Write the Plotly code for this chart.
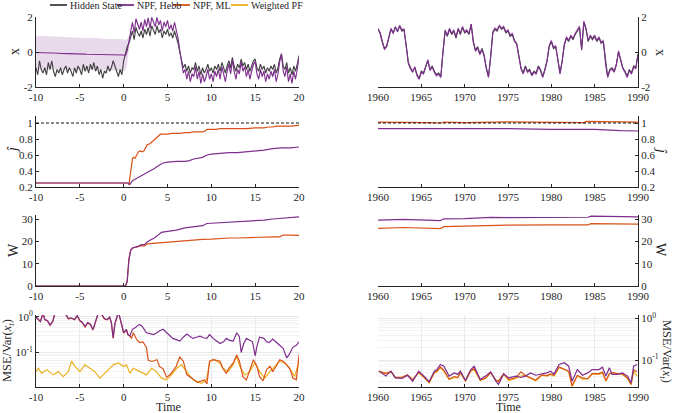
import plotly.graph_objects as go

# ---------------- data ----------------
# left column: time -10..20 (step 0.2) for the state panel
hidden_left = [
    -0.9, -1.3, -0.5, -1.0, -1.2, -0.9, -1.3, -0.6, -1.0, -0.5,
    -1.1, -1.4, -1.0, -1.2, -0.9, -1.3, -1.0, -0.8, -1.2, -0.9,
    -1.1, -1.4, -0.9, -1.2, -0.8, -1.0, -1.3, -0.7, -1.1, -0.8,
    -1.2, -0.7, -1.0, -0.6, -1.1, -0.8, -1.3, -1.0, -1.5, -1.1,
    -1.2, -0.8, -1.1, -0.9, -0.5, -0.8, -1.2, -1.4, -1.0, -1.3,
    -0.5, -0.1, 0.3, 0.5, 0.9, 1.2, 0.7, 1.4, 1.1, 0.9,
    1.2, 0.8, 1.3, 1.0, 1.4, 0.9, 1.5, 1.2, 1.0, 1.5,
    1.1, 1.3, 0.8, 1.2, 1.0, 1.3, 0.9, 1.1, 0.8, 1.2,
    0.9, 0.5, 0.0, -0.4, -0.9, -0.7, -1.1, -0.8, -1.2, -0.9,
    -1.0, -0.6, -1.1, -0.8, -1.3, -0.9, -1.2, -1.0, -0.7, -1.1,
    -0.9, -1.2, -0.8, -1.0, -0.7, -1.1, -0.6, -0.9, -1.2, -0.8,
    -0.5, -0.9, -0.3, -0.8, -1.1, -0.7, -0.9, -0.4, -0.8, -0.6,
    -1.0, -0.7, -1.1, -0.8, -0.5, -0.4, -0.9, -1.1, -0.7, -1.0,
    -0.8, -1.2, -0.9, -1.1, -0.8, -1.0, -0.7, -1.2, -0.9, -0.4,
    -0.1, -0.8, -1.0, -0.6, -1.2, -0.9, -1.3, -0.8, -1.1, -0.7,
    -0.2]

hebb_left = [
    -0.03, -0.03, -0.04, -0.04, -0.04, -0.05, -0.05, -0.05, -0.06, -0.06,
    -0.06, -0.07, -0.07, -0.07, -0.08, -0.08, -0.08, -0.09, -0.09, -0.09,
    -0.10, -0.10, -0.10, -0.11, -0.11, -0.11, -0.12, -0.12, -0.12, -0.13,
    -0.13, -0.13, -0.13, -0.14, -0.14, -0.14, -0.14, -0.15, -0.15, -0.15,
    -0.15, -0.15, -0.16, -0.16, -0.16, -0.16, -0.16, -0.17, -0.17, -0.17,
    -0.17,
    -0.2, 0.05, 0.6, 1.25, 1.7, 1.1, 1.9, 1.6, 1.3, 1.7,
    1.2, 1.85, 1.45, 1.95, 1.35, 1.98, 1.7, 1.45, 1.98, 1.55,
    1.8, 1.2, 1.7, 1.45, 1.8, 1.3, 1.55, 1.2, 1.7, 1.3,
    0.8, 0.1, -0.5, -1.2, -1.0, -1.55, -1.1, -1.7, -1.25, -1.4,
    -0.85, -1.55, -1.1, -1.8, -1.25, -1.7, -1.4, -1.0, -1.55, -1.25,
    -1.7, -1.1, -1.4, -1.0, -1.55, -0.85, -1.25, -1.7, -1.1, -0.7,
    -1.25, -0.45, -1.1, -1.55, -1.0, -1.25, -0.55, -1.1, -0.85, -1.4,
    -1.0, -1.55, -1.1, -0.7, -0.55, -1.25, -1.55, -1.0, -1.4, -1.1,
    -1.7, -1.25, -1.55, -1.1, -1.4, -1.0, -1.7, -1.25, -0.55, -0.15,
    -1.1, -1.4, -0.85, -1.7, -1.25, -1.8, -1.1, -1.55, -1.0, -0.3]

hebb_left_sd = [
    0.96, 0.96, 0.96, 0.96, 0.96, 0.95, 0.95, 0.95, 0.95, 0.95,
    0.95, 0.95, 0.94, 0.94, 0.94, 0.94, 0.94, 0.94, 0.94, 0.94,
    0.93, 0.93, 0.93, 0.93, 0.93, 0.93, 0.93, 0.93, 0.92, 0.92,
    0.92, 0.92, 0.92, 0.92, 0.92, 0.92, 0.91, 0.91, 0.91, 0.91,
    0.91, 0.91, 0.91, 0.91, 0.90, 0.90, 0.90, 0.90, 0.90, 0.90,
    0.90,
    0.88, 0.70, 0.35, 0.18,
    0.13, 0.14, 0.13, 0.12, 0.13, 0.14, 0.13, 0.13, 0.12, 0.13, 0.14, 0.13,
    0.12, 0.13, 0.14, 0.13, 0.12, 0.13, 0.13, 0.14, 0.12, 0.13, 0.13, 0.14,
    0.13, 0.12, 0.13, 0.14, 0.13, 0.12, 0.13, 0.13, 0.14, 0.13, 0.12, 0.13,
    0.14, 0.13, 0.12, 0.13, 0.13, 0.14, 0.13, 0.12, 0.13, 0.14, 0.13, 0.13,
    0.12, 0.13, 0.14, 0.13, 0.13, 0.12, 0.13, 0.14, 0.13, 0.12, 0.13, 0.13,
    0.14, 0.13, 0.12, 0.13, 0.14, 0.13, 0.13, 0.12, 0.13, 0.14, 0.13, 0.12,
    0.13, 0.13, 0.14, 0.13, 0.12, 0.13, 0.14, 0.13, 0.13, 0.12, 0.13, 0.14,
    0.13, 0.12, 0.13, 0.13, 0.14, 0.13, 0.12, 0.13, 0.14, 0.13, 0.13, 0.13]

# right column: years 1960..1990 (step 0.25) for the state panel
hidden_right = [
    1.3, 1.1, 0.6, 0.2, 0.3, 0.9, 1.3, 1.1, 1.4, 1.2,
    1.5, 1.2, 1.3, 0.4, -0.6, -0.9, -1.1, -0.9, -1.3, -1.5,
    -1.1, -1.2, -0.9, -0.5, -1.0, -0.8, -1.1, -1.3, -1.2, -1.4,
    0.0, 1.2, 0.9, 1.3, 1.0, 1.2, 0.8, 1.3, 1.0, 1.4,
    1.1, 1.2, 1.0, 1.6, 0.6, 0.1, 0.3, -0.1, 0.2, -0.2,
    -0.9, -1.4, -0.3, 1.1, 1.3, 1.2, 1.5, 1.3, 1.4, 1.1,
    1.2, 0.9, 1.0, 0.6, 0.5, -0.3, -0.9, -1.2, -0.8, -1.1,
    -1.0, -1.3, -1.1, -1.2, -0.8, -1.0, -1.4, -1.0, -0.5, 0.3,
    0.6, 0.2, 0.3, -0.4, -1.2, -0.5, 0.4, 0.8, 0.6, 0.9,
    0.7, 1.0, 1.2, 1.4, 0.1, 1.7, 1.3, 0.6, 0.9, 0.7,
    0.9, 0.6, 0.8, 0.5, 0.6, -0.6, -1.4, -1.0, -0.9, -1.1,
    -0.7, 0.0, -0.4, -0.9, -1.1, -1.4, -1.0, -1.2, -0.8, -0.9,
    -0.1]

hebb_right = [
    1.35, 1.05, 0.55, 0.15, 0.35, 0.95, 1.35, 1.05, 1.45, 1.15,
    1.5, 1.25, 1.3, 0.35, -0.65, -0.95, -1.15, -0.85, -1.35, -1.55,
    -1.15, -1.25, -0.85, -0.45, -1.05, -0.85, -1.15, -1.35, -1.25, -1.45,
    0.05, 1.25, 0.95, 1.35, 1.05, 1.25, 0.85, 1.35, 1.05, 1.45,
    1.15, 1.25, 1.05, 1.6, 0.55, 0.05, 0.25, -0.15, 0.15, -0.25,
    -0.95, -1.45, -0.25, 1.15, 1.35, 1.25, 1.5, 1.35, 1.45, 1.15,
    1.25, 0.95, 1.05, 0.65, 0.45, -0.35, -0.95, -1.25, -0.85, -1.15,
    -1.05, -1.35, -1.15, -1.25, -0.85, -1.05, -1.45, -1.05, -0.55, 0.35,
    0.65, 0.25, 0.35, -0.45, -1.25, -0.55, 0.45, 0.85, 0.65, 0.95,
    0.75, 1.05, 1.25, 1.45, 0.15, 1.75, 1.35, 0.65, 0.95, 0.75,
    0.95, 0.65, 0.85, 0.55, 0.65, -0.65, -1.45, -1.05, -0.95, -1.15,
    -0.75, 0.05, -0.45, -0.95, -1.15, -1.45, -1.05, -1.25, -0.85, -0.95,
    -0.15]
hebb_right_sd = 0.12

# J estimates
J_TRUE = 1.0
j_ml_t = [-10, 0.5, 0.6, 0.8, 1.0, 1.1, 1.3, 1.5, 1.7, 1.9, 2.1, 2.3, 2.5, 2.7, 3.0, 3.3,
          3.6, 3.9, 4.2, 4.6, 5.0, 5.5, 6.0, 6.5, 7.0, 7.5, 8.0, 8.5, 9.0, 9.3, 9.5, 10,
          10.5, 11, 11.5, 12, 13, 14, 15, 15.5, 16, 16.5, 17, 17.5, 18, 19, 20]
j_ml = [0.25, 0.25, 0.23, 0.4, 0.55, 0.57, 0.56, 0.6, 0.64, 0.65, 0.64, 0.65, 0.7, 0.73, 0.74, 0.77,
        0.8, 0.82, 0.86, 0.86, 0.86, 0.87, 0.87, 0.87, 0.88, 0.88, 0.89, 0.89, 0.89, 0.9, 0.92, 0.92,
        0.92, 0.93, 0.93, 0.93, 0.93, 0.93, 0.94, 0.94, 0.94, 0.95, 0.95, 0.96, 0.96, 0.96, 0.97]
j_hebb_t = [-10, 0.5, 0.7, 1.0, 1.5, 2.0, 2.5, 3.0, 3.5, 4.0, 4.5, 5.0, 6.0, 7.0, 7.5,
            8.0, 9.0, 9.5, 10, 11, 12, 13, 14, 15, 16, 17, 18, 19, 20]
j_hebb = [0.25, 0.25, 0.23, 0.28, 0.31, 0.34, 0.36, 0.4, 0.43, 0.47, 0.5, 0.51, 0.52, 0.52, 0.53,
          0.55, 0.57, 0.6, 0.61, 0.62, 0.63, 0.63, 0.64, 0.65, 0.66, 0.68, 0.69, 0.69, 0.70]
j_ml_right_t = [1960, 1963, 1966, 1967.3, 1967.6, 1970, 1972, 1975, 1978, 1980, 1983.8, 1984, 1987, 1990]
j_ml_right = [1.01, 1.01, 1.005, 1.0, 1.012, 1.005, 1.01, 1.015, 1.01, 1.01, 1.005, 1.02, 1.015, 1.01]
j_hebb_right_t = [1960, 1965, 1970, 1975, 1980, 1983.5, 1985, 1988, 1990]
j_hebb_right = [0.93, 0.93, 0.925, 0.93, 0.92, 0.915, 0.92, 0.905, 0.9]

# W estimates
w_ml_t = [-10, 0.2, 0.4, 0.6, 0.8, 1.0, 1.5, 2.0, 2.4, 2.6, 3.0, 4.0, 5.0, 6.0, 7.0, 8.0, 9.0,
          10, 11, 12, 13, 14, 15, 16, 17, 17.8, 18.2, 19, 20]
w_ml = [0, 0, 2, 12, 16, 17, 17.5, 18, 18, 18.8, 19, 19.3, 19.7, 20.2, 20.5, 20.7, 20.9,
        21.0, 21.3, 21.5, 21.5, 21.7, 21.8, 22.0, 22.0, 22.0, 22.8, 22.8, 22.7]
w_hebb_t = [-10, 0.2, 0.4, 0.6, 0.8, 1.0, 1.5, 2.0, 2.4, 2.6, 3.0, 3.5, 4.0, 4.3, 5.0, 6.0, 7.0,
            8.0, 9.0, 9.5, 10.5, 11.5, 13, 14, 15, 16, 17, 18, 19, 20]
w_hebb = [0, 0, 2, 12, 16, 17, 17.5, 18.5, 18.5, 19.5, 20.5, 21.5, 23, 24, 24.5, 25, 26,
          26.5, 27, 28, 28.2, 28.7, 28.8, 29, 29.2, 29.5, 30, 30.3, 30.6, 31]
w_right_t = [1960, 1963, 1967.2, 1967.6, 1970, 1973, 1975, 1980, 1984.2, 1984.6, 1987, 1990]
w_hebb_right = [29.5, 29.8, 29.3, 30.1, 30.2, 30.7, 30.6, 30.7, 30.8, 31.3, 31.2, 31.0]
w_ml_right = [25.8, 26.2, 25.7, 26.6, 26.8, 27.3, 27.3, 27.4, 27.4, 27.9, 27.8, 27.7]

# normalised MSE
mse_hebb_t = [-10, -9.7, -9.5, -9.2, -9.0, -8.7, -8.4, -8.1, -7.8, -7.4, -7.0, -6.6, -6.3, -6.0,
              -5.6, -5.3, -5.0, -4.7, -4.4, -4.1, -3.8, -3.5, -3.2, -2.9, -2.5, -2.2, -1.9, -1.6,
              -1.4, -1.2, -1.0, -0.8, -0.6, -0.4, -0.2, 0.0, 0.3, 0.5, 0.7, 1.0, 1.3, 1.5, 1.8,
              2.1, 2.4, 2.6, 3.0, 3.4, 3.8, 4.1, 4.5, 4.9, 5.2, 5.6, 6.0, 6.4, 6.8, 7.2, 7.5, 7.9,
              8.3, 8.7, 9.1, 9.5, 9.8, 10.2, 10.6, 11.0, 11.4, 11.7, 12.1, 12.5, 12.9, 13.2, 13.4,
              13.7, 14.0, 14.4, 14.7, 15.0, 15.2, 15.5, 16.0, 16.3, 16.6, 17.0, 17.4, 17.8, 18.2,
              18.6, 18.9, 19.3, 19.7, 20.0]
mse_hebb = [1.0, 0.85, 0.75, 1.3, 0.85, 0.8, 0.6, 0.75, 1.4, 1.3, 1.5, 1.2, 0.9, 0.95,
            0.85, 1.1, 0.8, 0.7, 0.54, 0.7, 0.63, 0.44, 0.8, 1.3, 1.2, 0.9, 0.85, 1.0,
            0.7, 0.26, 0.65, 1.0, 1.4, 0.9, 0.6, 0.36, 0.45, 0.32, 0.29, 0.45, 0.5, 0.55, 0.62,
            0.55, 0.42, 0.36, 0.34, 0.32, 0.36, 0.41, 0.45, 0.36, 0.3, 0.25, 0.23, 0.21, 0.27, 0.33, 0.29, 0.25,
            0.27, 0.29, 0.26, 0.25, 0.32, 0.25, 0.21, 0.18, 0.2, 0.25, 0.22, 0.21, 0.36, 0.28, 0.1,
            0.18, 0.25, 0.22, 0.2, 0.08, 0.15, 0.27, 0.25, 0.2, 0.19, 0.24, 0.2, 0.16, 0.13,
            0.07, 0.09, 0.14, 0.16, 0.2]
mse_ml_t = [-10, -9.7, -9.5, -9.2, -9.0, -8.7, -8.4, -8.1, -7.8, -7.4, -7.0, -6.6, -6.3, -6.0,
            -5.6, -5.3, -5.0, -4.7, -4.4, -4.1, -3.8, -3.5, -3.2, -2.9, -2.5, -2.2, -1.9, -1.6,
            -1.4, -1.2, -1.0, -0.8, -0.6, -0.4, -0.2, 0.0, 0.3, 0.5,
            0.7, 0.9, 1.1, 1.5, 1.8, 2.2, 2.6, 2.8, 3.2, 3.8, 4.1, 4.5, 4.9, 5.3, 5.6, 6.0, 6.4,
            6.8, 7.2, 7.8, 8.4, 9.2, 9.5, 9.8, 10.2, 11.0, 11.3, 11.7, 12.0, 12.5, 12.9, 13.2,
            13.6, 14.0, 14.4, 14.8, 15.2, 15.5, 15.9, 16.3, 16.7, 17.0, 17.4, 17.8, 18.2, 18.6,
            19.0, 19.3, 19.7, 20.0]
mse_ml = [0.98, 0.83, 0.74, 1.25, 0.83, 0.78, 0.58, 0.73, 1.35, 1.25, 1.45, 1.15, 0.88, 0.92,
          0.83, 1.05, 0.78, 0.68, 0.52, 0.68, 0.61, 0.43, 0.78, 1.25, 1.15, 0.88, 0.83, 0.97,
          0.68, 0.25, 0.63, 0.97, 1.35, 0.88, 0.58, 0.35, 0.43, 0.31,
          0.3, 0.25, 0.36, 0.23, 0.19, 0.2, 0.14, 0.06, 0.056, 0.063, 0.04, 0.035, 0.02, 0.024, 0.03, 0.041, 0.075,
          0.057, 0.024, 0.019, 0.0145, 0.017, 0.013, 0.057, 0.063, 0.057, 0.036, 0.026, 0.036, 0.051, 0.085, 0.057,
          0.021, 0.017, 0.033, 0.063, 0.041, 0.021, 0.016, 0.033, 0.041, 0.029, 0.041, 0.063, 0.057, 0.045,
          0.033, 0.019, 0.017, 0.085]
mse_pf_t = [-10, -9.73, -9.35, -8.78, -8.03, -7.46, -6.89, -6.32, -5.94, -5.56, -4.99, -4.42,
            -3.85, -3.28, -2.71, -2.33, -1.76, -1.19, -0.62, -0.05, 0.33, 0.71, 1.09, 1.85, 2.61,
            3.18, 3.75, 4.32, 4.89, 5.46, 6.03, 6.6, 7.17, 7.74, 8.31, 8.88, 9.45, 9.83, 10.39,
            10.96, 11.34, 11.91, 12.48, 12.86, 13.24, 13.81, 14.38, 14.95, 15.52, 16.09, 16.66,
            17.23, 17.8, 18.37, 18.94, 19.51, 20.0]
mse_pf = [0.029, 0.036, 0.026, 0.033, 0.0235, 0.029, 0.021, 0.029, 0.057, 0.041, 0.029, 0.045,
          0.036, 0.029, 0.019, 0.0235, 0.033, 0.045, 0.051, 0.041, 0.045, 0.026, 0.036, 0.029, 0.0235,
          0.036, 0.029, 0.019, 0.017, 0.0235, 0.036, 0.045, 0.029, 0.019, 0.0152, 0.0136, 0.017, 0.057, 0.063,
          0.051, 0.036, 0.029, 0.045, 0.079, 0.041, 0.0235, 0.029, 0.051, 0.029, 0.019, 0.029,
          0.041, 0.057, 0.051, 0.036, 0.021, 0.057]

mse_right_t = [1960.1, 1960.9, 1961.5, 1962.0, 1962.8, 1963.4, 1964.0, 1964.7, 1965.3, 1965.9,
               1966.5, 1966.8, 1967.2, 1967.6, 1968.2, 1968.8, 1969.2, 1969.5, 1970.1, 1970.7,
               1971.1, 1971.5, 1971.8, 1972.4, 1973.0, 1973.6, 1973.9, 1974.5, 1975.1, 1975.9,
               1976.5, 1977.0, 1977.6, 1978.2, 1978.9, 1979.5, 1979.9, 1980.3, 1980.9, 1981.5,
               1982.0, 1982.4, 1983.0, 1983.6, 1984.2, 1984.7, 1985.5, 1985.9, 1986.3, 1986.7,
               1987.0, 1987.6, 1988.2, 1988.8, 1989.2, 1989.5, 1989.9]
mse_hebb_right = [0.054, 0.041, 0.054, 0.037, 0.036, 0.043, 0.031, 0.054, 0.041, 0.030,
                  0.054, 0.059, 0.078, 0.071, 0.041, 0.049, 0.045, 0.054, 0.032, 0.059,
                  0.071, 0.049, 0.034, 0.041, 0.052, 0.031, 0.026, 0.046, 0.037, 0.041,
                  0.038, 0.041, 0.049, 0.043, 0.046, 0.049, 0.054, 0.046, 0.078, 0.086,
                  0.071, 0.031, 0.059, 0.043, 0.049, 0.059, 0.059, 0.067, 0.041, 0.065,
                  0.045, 0.045, 0.049, 0.041, 0.028, 0.071, 0.078]
mse_ml_right = [0.054, 0.047, 0.053, 0.038, 0.039, 0.044, 0.033, 0.051, 0.039, 0.029,
                0.05, 0.054, 0.068, 0.056, 0.035, 0.04, 0.038, 0.05, 0.032, 0.056,
                0.062, 0.043, 0.033, 0.037, 0.05, 0.033, 0.031, 0.047, 0.034, 0.038,
                0.052, 0.042, 0.038, 0.033, 0.044, 0.042, 0.046, 0.043, 0.068, 0.061,
                0.054, 0.024, 0.043, 0.037, 0.035, 0.047, 0.047, 0.051, 0.032, 0.047,
                0.05, 0.047, 0.046, 0.037, 0.026, 0.058, 0.052]
mse_pf_right = [0.052, 0.049, 0.052, 0.037, 0.038, 0.043, 0.034, 0.049, 0.038, 0.028,
                0.049, 0.052, 0.065, 0.054, 0.034, 0.038, 0.037, 0.049, 0.031, 0.054,
                0.059, 0.041, 0.032, 0.036, 0.049, 0.032, 0.030, 0.045, 0.032, 0.036,
                0.041, 0.043, 0.037, 0.031, 0.043, 0.041, 0.045, 0.041, 0.065, 0.059,
                0.052, 0.023, 0.041, 0.034, 0.036, 0.046, 0.045, 0.049, 0.031, 0.046,
                0.049, 0.046, 0.045, 0.036, 0.0255, 0.054, 0.041]

legend_names = ["Hidden State", "NPF, Hebb", "NPF, ML", "Weighted PF"]
x_ticks_left = [-10, -5, 0, 5, 10, 15, 20]
x_ticks_right = [1960, 1965, 1970, 1975, 1980, 1985, 1990]

# ---------------- styling ----------------
W, H = 675, 413
FONT = "Liberation Serif"
INK = "#262626"
C_HID = "#404040"
C_HEBB = "#7E2F8E"
C_ML = "#D95319"
C_PF = "#EDB120"
BAND = "rgba(126,47,142,0.18)"

t_left = [round(-10 + 0.2 * i, 2) for i in range(len(hidden_left))]
t_right = [1960 + 0.25 * i for i in range(len(hidden_right))]

fig = go.Figure()


def add(ax, x, y, color, width=1.2, **kw):
    fig.add_trace(go.Scatter(x=x, y=y, mode="lines", line=dict(color=color, width=width),
                             xaxis="x" + ax, yaxis="y" + ax, showlegend=False,
                             hoverinfo="skip", **kw))


def band(ax, x, mean, sd):
    up = [m + s for m, s in zip(mean, sd)]
    lo = [m - s for m, s in zip(mean, sd)]
    fig.add_trace(go.Scatter(x=list(x) + list(x)[::-1], y=up + lo[::-1], mode="lines",
                             fill="toself", fillcolor=BAND, line=dict(width=0),
                             xaxis="x" + ax, yaxis="y" + ax, showlegend=False, hoverinfo="skip"))


# row 1: state
band("1", t_left, hebb_left, hebb_left_sd)
add("1", t_left, hidden_left, C_HID, 1.1)
add("1", t_left, hebb_left, C_HEBB, 1.1)
band("2", t_right, hebb_right, [hebb_right_sd] * len(hebb_right))
add("2", t_right, hidden_right, C_HID, 1.1)
add("2", t_right, hebb_right, C_HEBB, 1.1)

# row 2: J
add("3", j_ml_t, j_ml, C_ML)
add("3", j_hebb_t, j_hebb, C_HEBB)
add("4", j_ml_right_t, j_ml_right, C_ML)
add("4", j_hebb_right_t, j_hebb_right, C_HEBB)

# row 3: W
add("5", w_ml_t, w_ml, C_ML)
add("5", w_hebb_t, w_hebb, C_HEBB)
add("6", w_right_t, w_ml_right, C_ML)
add("6", w_right_t, w_hebb_right, C_HEBB)

# row 4: MSE
add("7", mse_pf_t, mse_pf, C_PF)
add("7", mse_ml_t, mse_ml, C_ML)
add("7", mse_hebb_t, mse_hebb, C_HEBB)
add("8", mse_right_t, mse_pf_right, C_PF)
add("8", mse_right_t, mse_ml_right, C_ML)
add("8", mse_right_t, mse_hebb_right, C_HEBB)

# ---------------- axes ----------------
cols = {1: (36, 299), 2: (378, 638)}
rows = {1: (17, 87), 2: (116, 187), 3: (215, 286), 4: (315, 387)}
tickfont = dict(family=FONT, size=11, color=INK)

yspec = {
    1: dict(range=[-2, 2], tickvals=[-2, 0, 2], ticktext=["-2", "0", "2"]),
    2: dict(range=[0.2, 1.0875], tickvals=[0.2, 0.4, 0.6, 0.8, 1], ticktext=["0.2", "0.4", "0.6", "0.8", "1"]),
    3: dict(range=[0, 31.8], tickvals=[0, 10, 20, 30], ticktext=["0", "10", "20", "30"]),
}
minor_vals = [0.02, 0.03, 0.04, 0.05, 0.06, 0.07, 0.08, 0.09, 0.2, 0.3, 0.4, 0.5, 0.6, 0.7, 0.8, 0.9]

layout = {}
for r in range(1, 5):
    for c in (1, 2):
        k = 2 * (r - 1) + c
        xa = "xaxis" if k == 1 else f"xaxis{k}"
        ya = "yaxis" if k == 1 else f"yaxis{k}"
        x0, x1 = cols[c]
        top, bot = rows[r]
        ticks = x_ticks_left if c == 1 else x_ticks_right
        layout[xa] = dict(
            domain=[x0 / W, x1 / W], anchor=f"y{k}", automargin=False,
            range=[-10, 20] if c == 1 else [1960, 1990],
            tickvals=ticks, ticktext=[str(v) for v in ticks],
            showline=True, linecolor=INK, linewidth=1, ticks="inside", ticklen=3,
            tickcolor=INK, tickfont=tickfont, zeroline=False,
            showgrid=(r == 4), gridcolor="#e6e6e6", gridwidth=0.8,
        )
        yd = dict(domain=[1 - bot / H, 1 - top / H], anchor=f"x{k}", automargin=False,
                  side="left" if c == 1 else "right",
                  showline=True, linecolor=INK, linewidth=1, ticks="inside", ticklen=3,
                  tickcolor=INK, tickfont=tickfont, zeroline=False, showgrid=False)
        if r < 4:
            yd.update(yspec[r])
        else:
            yd.update(type="log",
                      range=[-1.97, 0.056] if c == 1 else [-1.65, 0.084],
                      tickvals=[0.1, 1], ticktext=["10<sup>-1</sup>", "10<sup>0</sup>"],
                      showgrid=True, gridcolor="#e3e3e3", gridwidth=0.8,
                      minor=dict(tickvals=minor_vals, showgrid=True, gridcolor="#f0f0f0",
                                 gridwidth=0.8, ticks=""))
        layout[ya] = yd

fig.update_layout(**layout)

# dashed reference line at true J
for ax in ("3", "4"):
    fig.add_shape(type="line", xref=f"x{ax} domain", x0=0, x1=1, yref=f"y{ax}",
                  y0=J_TRUE, y1=J_TRUE, line=dict(color="#111111", width=1, dash="3px,2px"),
                  layer="above")

# axis titles
ann = []
left_titles = [("x", 15, 52, 14), ("<i>ĵ</i>", 12, 150, 14), ("W", 13, 250, 14),
               ("MSE/Var(<i>x<sub>t</sub></i>)", 8, 351, 12.5)]
right_titles = [("x", 660, 52, 14), ("<i>ĵ</i>", 662, 150, 14), ("W", 661, 250, 14),
                ("MSE/Var(<i>x<sub>t</sub></i>)", 666, 351, 12.5)]
for txt, px, py, fs in left_titles:
    ann.append(dict(text=txt, x=px / W, y=1 - py / H, xref="paper", yref="paper",
                    showarrow=False, textangle=-90, xanchor="center", yanchor="middle",
                    font=dict(family=FONT, size=fs, color=INK)))
for txt, px, py, fs in right_titles:
    ann.append(dict(text=txt, x=px / W, y=1 - py / H, xref="paper", yref="paper",
                    showarrow=False, textangle=90, xanchor="center", yanchor="middle",
                    font=dict(family=FONT, size=fs, color=INK)))
for px in (168, 508):
    ann.append(dict(text="Time", x=px / W, y=1 - 407 / H, xref="paper", yref="paper",
                    showarrow=False, xanchor="center", yanchor="middle",
                    font=dict(family=FONT, size=12, color=INK)))

# legend (drawn manually to match the compact MATLAB legend)
leg_colors = [C_HID, C_HEBB, C_ML, C_PF]
leg_line_x = [(50, 67), (117, 134), (173, 190), (231, 248)]
shapes = []
for (a, b), col, name in zip(leg_line_x, leg_colors, legend_names):
    shapes.append(dict(type="line", xref="paper", yref="paper", x0=a / W, x1=b / W,
                       y0=1 - 5 / H, y1=1 - 5 / H, line=dict(color=col, width=1.8)))
    ann.append(dict(text=name, x=(b + 1) / W, y=1 - 5 / H, xref="paper", yref="paper",
                    showarrow=False, xanchor="left", yanchor="middle",
                    font=dict(family=FONT, size=10, color=INK)))
for s in shapes:
    fig.add_shape(**s)

fig.update_layout(annotations=ann, width=W, height=H,
                  margin=dict(l=0, r=0, t=0, b=0),
                  paper_bgcolor="white", plot_bgcolor="white", showlegend=False)

fig.write_html("out.html", config={"displayModeBar": False, "staticPlot": True},
               post_script="document.body.style.margin='0px';document.body.style.overflow='hidden';")
